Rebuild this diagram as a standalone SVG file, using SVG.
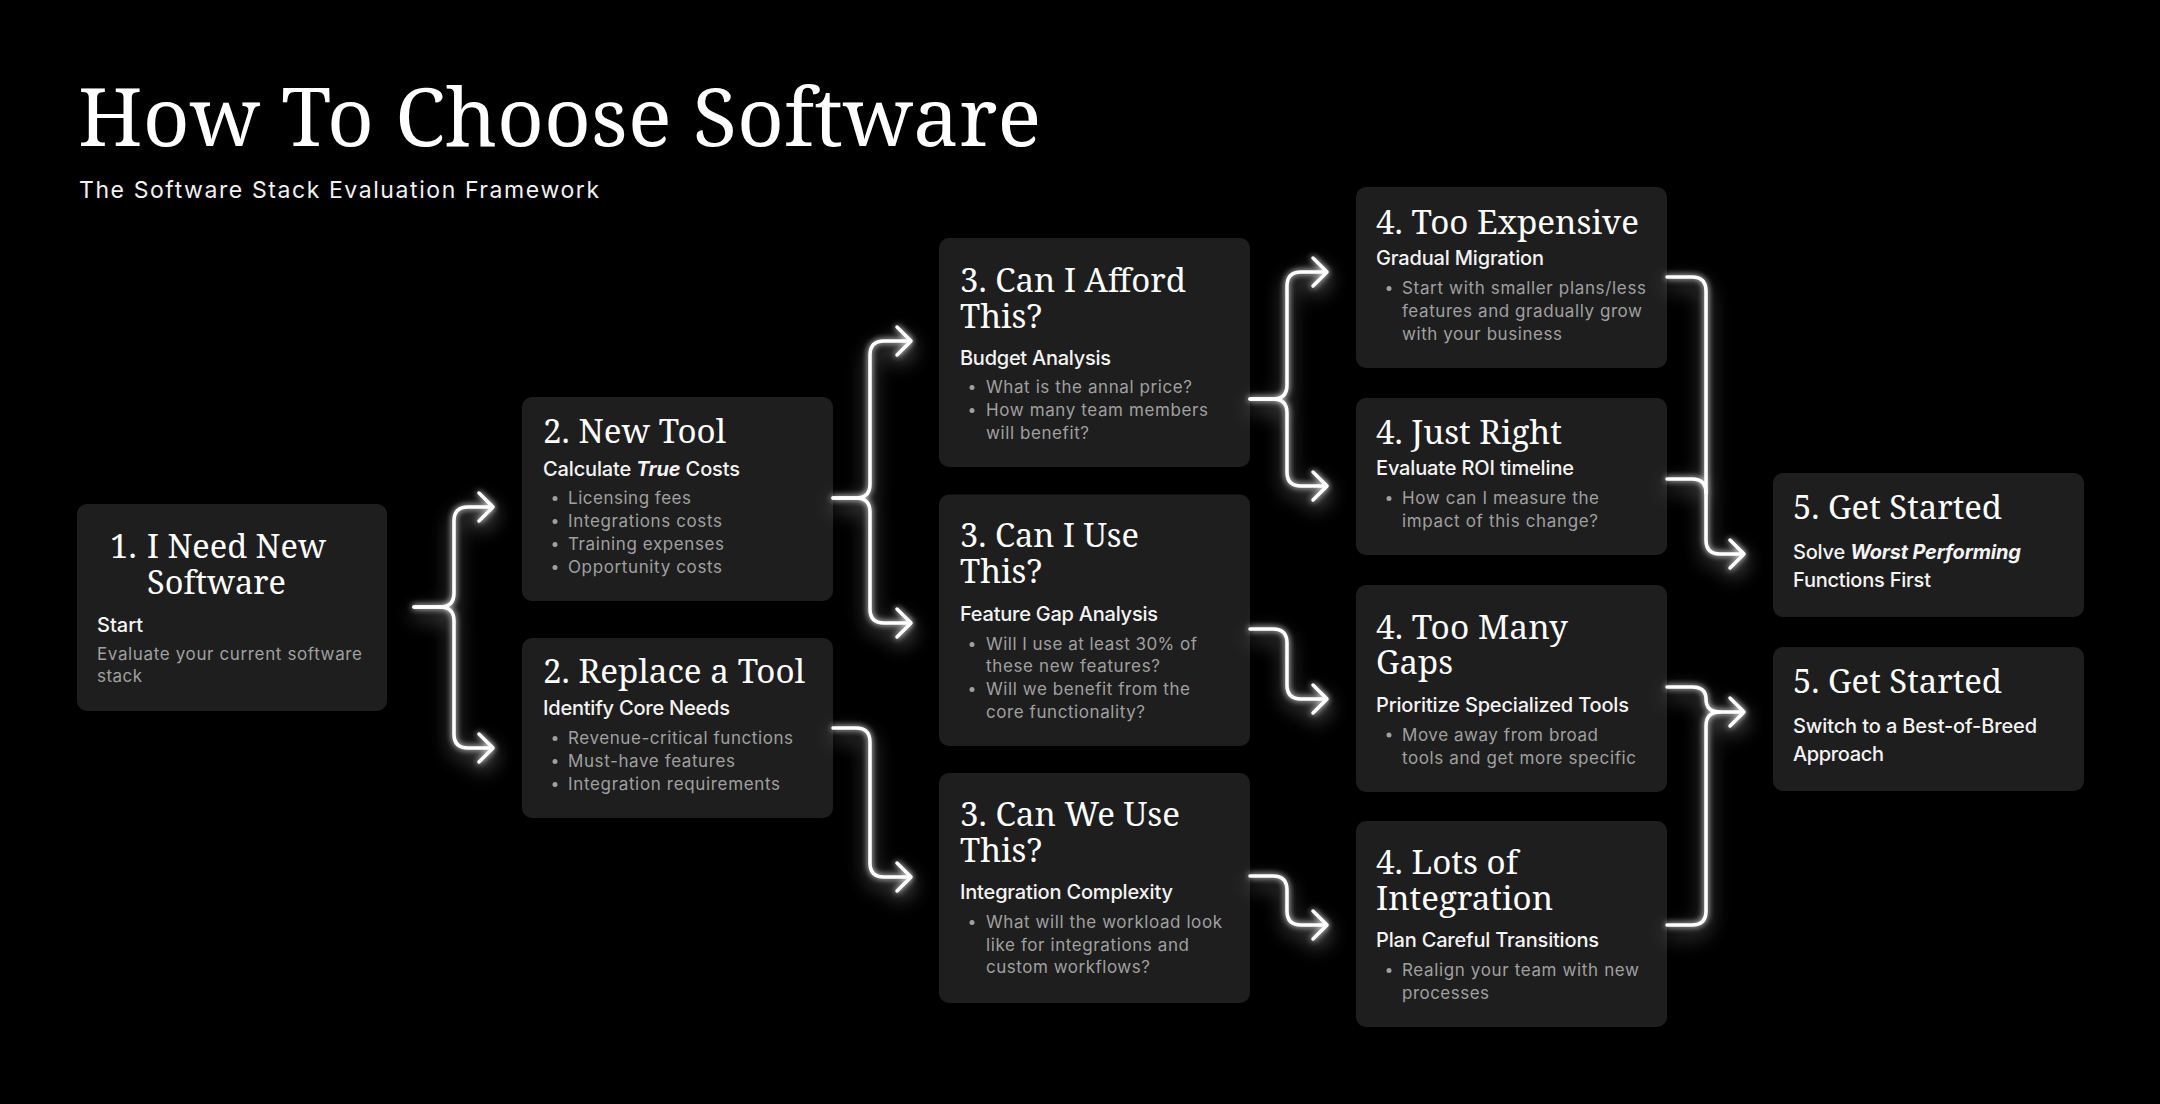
<svg xmlns="http://www.w3.org/2000/svg" width="2160" height="1104" viewBox="0 0 2160 1104">
<defs>
<style>
.bg{fill:#000}
.box{fill:#1e1e1e}
.title{font-family:"Noto Serif","DejaVu Serif",serif;font-size:80px;fill:#fff}
.subtitle{font-family:Inter,"Noto Sans",sans-serif;font-size:23px;fill:#f2f2f2}
.h{font-family:"Noto Serif","DejaVu Serif",serif;font-size:33px;fill:#fff}
.s{font-family:Inter,"Noto Sans",sans-serif;font-size:20px;font-weight:500;fill:#f4f4f4}
.b{font-family:Inter,"Noto Sans",sans-serif;font-size:17px;fill:#a0a0a0}
.dot{fill:#a0a0a0}
.em{font-weight:700;font-style:italic}
.c{fill:none;stroke:#fff;stroke-width:3.5;stroke-linecap:round;stroke-linejoin:round}
</style>
<filter id="glow" filterUnits="userSpaceOnUse" x="0" y="0" width="2160" height="1104">
<feGaussianBlur in="SourceGraphic" stdDeviation="3" result="b1"/>
<feGaussianBlur in="SourceGraphic" stdDeviation="10" result="b2"/>
<feOffset in="b2" dy="8" result="b2o"/>
<feComponentTransfer in="b2o" result="b2f"><feFuncA type="linear" slope="0.7"/></feComponentTransfer>
<feMerge><feMergeNode in="b2f"/><feMergeNode in="b1"/><feMergeNode in="SourceGraphic"/></feMerge>
</filter>
</defs>
<rect class="bg" x="0" y="0" width="2160" height="1104"/>

<g id="header">
<text class="title" x="78" y="146" textLength="963" lengthAdjust="spacingAndGlyphs">How To Choose Software</text>
<text class="subtitle" x="79" y="198" textLength="520" lengthAdjust="spacing">The Software Stack Evaluation Framework</text>
</g>

<g id="n1">
<rect class="box" x="77" y="504" width="310" height="207" rx="10"/>
<text class="h"><tspan x="110" y="558">1.</tspan><tspan x="147" y="558" textLength="179" lengthAdjust="spacingAndGlyphs">I Need New</tspan><tspan x="147" y="594" textLength="139" lengthAdjust="spacingAndGlyphs">Software</tspan></text>
<text class="s" x="97" y="632" textLength="46" lengthAdjust="spacing">Start</text>
<text class="b" x="97" y="660" textLength="265" lengthAdjust="spacing">Evaluate your current software</text>
<text class="b" x="97" y="682" textLength="45" lengthAdjust="spacing">stack</text>
</g>

<g id="n2a">
<rect class="box" x="522" y="397" width="311" height="204" rx="10"/>
<text class="h" x="543" y="443" textLength="183" lengthAdjust="spacingAndGlyphs">2. New Tool</text>
<text class="s" x="543" y="476" textLength="197" lengthAdjust="spacing">Calculate <tspan class="em">True</tspan> Costs</text>
<circle class="dot" cx="555" cy="498.5" r="2.5"/>
<text class="b" x="568" y="504" textLength="123" lengthAdjust="spacing">Licensing fees</text>
<circle class="dot" cx="555" cy="521.5" r="2.5"/>
<text class="b" x="568" y="527" textLength="154" lengthAdjust="spacing">Integrations costs</text>
<circle class="dot" cx="555" cy="544.5" r="2.5"/>
<text class="b" x="568" y="550" textLength="156" lengthAdjust="spacing">Training expenses</text>
<circle class="dot" cx="555" cy="567.5" r="2.5"/>
<text class="b" x="568" y="573" textLength="154" lengthAdjust="spacing">Opportunity costs</text>
</g>

<g id="n2b">
<rect class="box" x="522" y="638" width="311" height="180" rx="10"/>
<text class="h" x="543" y="683" textLength="262" lengthAdjust="spacingAndGlyphs">2. Replace a Tool</text>
<text class="s" x="543" y="715" textLength="187" lengthAdjust="spacing">Identify Core Needs</text>
<circle class="dot" cx="555" cy="738.5" r="2.5"/>
<text class="b" x="568" y="744" textLength="225" lengthAdjust="spacing">Revenue-critical functions</text>
<circle class="dot" cx="555" cy="761.5" r="2.5"/>
<text class="b" x="568" y="767" textLength="167" lengthAdjust="spacing">Must-have features</text>
<circle class="dot" cx="555" cy="784.5" r="2.5"/>
<text class="b" x="568" y="790" textLength="212" lengthAdjust="spacing">Integration requirements</text>
</g>

<g id="n3a">
<rect class="box" x="939" y="238" width="311" height="229" rx="10"/>
<text class="h"><tspan x="960" y="292" textLength="226" lengthAdjust="spacingAndGlyphs">3. Can I Afford</tspan><tspan x="960" y="327.5" textLength="82" lengthAdjust="spacingAndGlyphs">This?</tspan></text>
<text class="s" x="960" y="364.5" textLength="151" lengthAdjust="spacing">Budget Analysis</text>
<circle class="dot" cx="972" cy="387.5" r="2.5"/>
<text class="b" x="986" y="393" textLength="206" lengthAdjust="spacing">What is the annal price?</text>
<circle class="dot" cx="972" cy="410.5" r="2.5"/>
<text class="b" x="986" y="416" textLength="222" lengthAdjust="spacing">How many team members</text>
<text class="b" x="986" y="439" textLength="103" lengthAdjust="spacing">will benefit?</text>
</g>

<g id="n3b">
<rect class="box" x="939" y="494.5" width="311" height="251.5" rx="10"/>
<text class="h"><tspan x="960" y="546.5" textLength="179" lengthAdjust="spacingAndGlyphs">3. Can I Use</tspan><tspan x="960" y="583" textLength="82" lengthAdjust="spacingAndGlyphs">This?</tspan></text>
<text class="s" x="960" y="620.5" textLength="198" lengthAdjust="spacing">Feature Gap Analysis</text>
<circle class="dot" cx="972" cy="644.5" r="2.5"/>
<text class="b" x="986" y="650" textLength="211" lengthAdjust="spacing">Will I use at least 30% of</text>
<text class="b" x="986" y="672" textLength="174" lengthAdjust="spacing">these new features?</text>
<circle class="dot" cx="972" cy="689.5" r="2.5"/>
<text class="b" x="986" y="695" textLength="204" lengthAdjust="spacing">Will we benefit from the</text>
<text class="b" x="986" y="717.5" textLength="159" lengthAdjust="spacing">core functionality?</text>
</g>

<g id="n3c">
<rect class="box" x="939" y="773" width="311" height="230" rx="10"/>
<text class="h"><tspan x="960" y="826" textLength="220" lengthAdjust="spacingAndGlyphs">3. Can We Use</tspan><tspan x="960" y="861.5" textLength="82" lengthAdjust="spacingAndGlyphs">This?</tspan></text>
<text class="s" x="960" y="899" textLength="213" lengthAdjust="spacing">Integration Complexity</text>
<circle class="dot" cx="972" cy="922.5" r="2.5"/>
<text class="b" x="986" y="928" textLength="236" lengthAdjust="spacing">What will the workload look</text>
<text class="b" x="986" y="951" textLength="203" lengthAdjust="spacing">like for integrations and</text>
<text class="b" x="986" y="973" textLength="164" lengthAdjust="spacing">custom workflows?</text>
</g>

<g id="n4a">
<rect class="box" x="1356" y="187" width="311" height="181" rx="10"/>
<text class="h" x="1376" y="233.5" textLength="263" lengthAdjust="spacingAndGlyphs">4. Too Expensive</text>
<text class="s" x="1376" y="265" textLength="168" lengthAdjust="spacing">Gradual Migration</text>
<circle class="dot" cx="1389" cy="288.5" r="2.5"/>
<text class="b" x="1402" y="294" textLength="244" lengthAdjust="spacing">Start with smaller plans/less</text>
<text class="b" x="1402" y="316.5" textLength="240" lengthAdjust="spacing">features and gradually grow</text>
<text class="b" x="1402" y="339.5" textLength="160" lengthAdjust="spacing">with your business</text>
</g>

<g id="n4b">
<rect class="box" x="1356" y="398" width="311" height="157" rx="10"/>
<text class="h" x="1376" y="444" textLength="186" lengthAdjust="spacingAndGlyphs">4. Just Right</text>
<text class="s" x="1376" y="475" textLength="198" lengthAdjust="spacing">Evaluate ROI timeline</text>
<circle class="dot" cx="1389" cy="498.5" r="2.5"/>
<text class="b" x="1402" y="504" textLength="197" lengthAdjust="spacing">How can I measure the</text>
<text class="b" x="1402" y="526.5" textLength="196" lengthAdjust="spacing">impact of this change?</text>
</g>

<g id="n4c">
<rect class="box" x="1356" y="585" width="311" height="207" rx="10"/>
<text class="h"><tspan x="1376" y="638.5" textLength="192" lengthAdjust="spacingAndGlyphs">4. Too Many</tspan><tspan x="1376" y="673.5" textLength="77" lengthAdjust="spacingAndGlyphs">Gaps</tspan></text>
<text class="s" x="1376" y="711.5" textLength="253" lengthAdjust="spacing">Prioritize Specialized Tools</text>
<circle class="dot" cx="1389" cy="735" r="2.5"/>
<text class="b" x="1402" y="740.5" textLength="196" lengthAdjust="spacing">Move away from broad</text>
<text class="b" x="1402" y="763.5" textLength="234" lengthAdjust="spacing">tools and get more specific</text>
</g>

<g id="n4d">
<rect class="box" x="1356" y="821" width="311" height="206" rx="10"/>
<text class="h"><tspan x="1376" y="874" textLength="142" lengthAdjust="spacingAndGlyphs">4. Lots of</tspan><tspan x="1376" y="910" textLength="177" lengthAdjust="spacingAndGlyphs">Integration</tspan></text>
<text class="s" x="1376" y="946.5" textLength="223" lengthAdjust="spacing">Plan Careful Transitions</text>
<circle class="dot" cx="1389" cy="970.5" r="2.5"/>
<text class="b" x="1402" y="976" textLength="237" lengthAdjust="spacing">Realign your team with new</text>
<text class="b" x="1402" y="998.5" textLength="87" lengthAdjust="spacing">processes</text>
</g>

<g id="n5a">
<rect class="box" x="1773" y="473" width="311" height="144" rx="10"/>
<text class="h" x="1793" y="519" textLength="209" lengthAdjust="spacingAndGlyphs">5. Get Started</text>
<text class="s" x="1793" y="558.5" textLength="228" lengthAdjust="spacing">Solve <tspan class="em">Worst Performing</tspan></text>
<text class="s" x="1793" y="586.5" textLength="138" lengthAdjust="spacing">Functions First</text>
</g>

<g id="n5b">
<rect class="box" x="1773" y="647" width="311" height="144" rx="10"/>
<text class="h" x="1793" y="692.5" textLength="209" lengthAdjust="spacingAndGlyphs">5. Get Started</text>
<text class="s" x="1793" y="732.5" textLength="244" lengthAdjust="spacing">Switch to a Best-of-Breed</text>
<text class="s" x="1793" y="760.5" textLength="91" lengthAdjust="spacing">Approach</text>
</g>

<g id="connectors" class="c" filter="url(#glow)">
<path d="M414,607 H440 Q454,607 454,593 V521 Q454,507 468,507 H492"/>
<path d="M414,607 H440 Q454,607 454,621 V734 Q454,748 468,748 H492"/>
<path d="M479,493 L493,507 L479,521"/>
<path d="M479,734 L493,748 L479,762"/>

<path d="M833,498 H856 Q870,498 870,484 V355 Q870,341 884,341 H910"/>
<path d="M833,498 H856 Q870,498 870,512 V609 Q870,623 884,623 H910"/>
<path d="M897,327 L911,341 L897,355"/>
<path d="M897,609 L911,623 L897,637"/>

<path d="M833,728 H856 Q870,728 870,742 V863 Q870,877 884,877 H910"/>
<path d="M897,863 L911,877 L897,891"/>

<path d="M1250,399 H1273 Q1287,399 1287,385 V286 Q1287,272 1301,272 H1326"/>
<path d="M1250,399 H1273 Q1287,399 1287,413 V472 Q1287,486 1301,486 H1326"/>
<path d="M1313,258 L1327,272 L1313,286"/>
<path d="M1313,472 L1327,486 L1313,500"/>

<path d="M1250,629 H1273 Q1287,629 1287,643 V685 Q1287,699 1301,699 H1326"/>
<path d="M1313,685 L1327,699 L1313,713"/>

<path d="M1250,876 H1273 Q1287,876 1287,890 V911 Q1287,925 1301,925 H1326"/>
<path d="M1313,911 L1327,925 L1313,939"/>

<path d="M1667,277 H1692 Q1706,277 1706,291 V540 Q1706,554 1720,554 H1743"/>
<path d="M1667,479 H1692 Q1706,479 1706,493"/>
<path d="M1730,540 L1744,554 L1730,568"/>

<path d="M1667,687 H1692 Q1706,687 1706,699 Q1706,712 1720,712 H1743"/>
<path d="M1667,925 H1692 Q1706,925 1706,911 V726 Q1706,712 1720,712"/>
<path d="M1730,698 L1744,712 L1730,726"/>
</g>
</svg>
